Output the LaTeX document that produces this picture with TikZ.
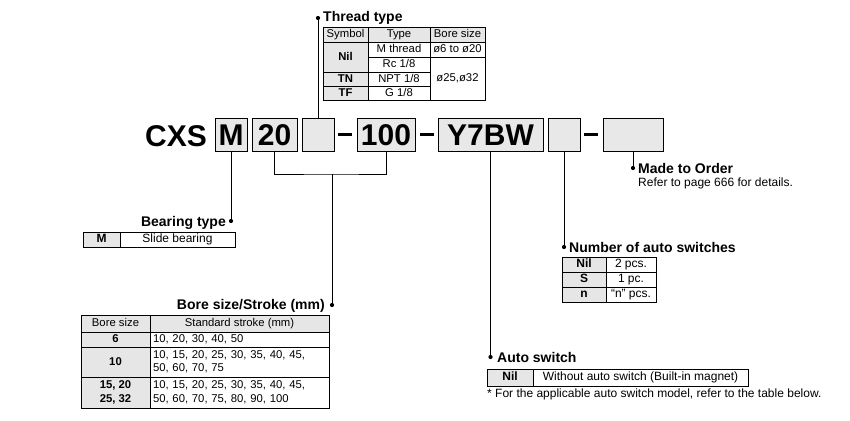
\documentclass[tikz,border=0pt]{standalone}
\usepackage{fontspec}
\setmainfont{Liberation Sans}
\newcommand\tabfont{\fontsize{11.3}{13.5}\selectfont}
\newcommand\tabfontb{\fontsize{12}{14}\selectfont}
\newcommand\ttlfont{\bfseries\fontsize{14}{16}\selectfont}
\newcommand\codefont{\bfseries\fontsize{30}{32}\selectfont}
\definecolor{cellgray}{HTML}{E6E6E6}
\definecolor{boxgray}{HTML}{E8E8E8}
\tikzset{
  cell/.style={draw, line width=0.7pt, inner sep=0pt, outer sep=0pt, anchor=north west, font=\tabfont, align=center},
  big/.style={font=\tabfontb},
  one/.style={text height=8.2pt, text depth=2.2pt},
  lcell/.style={draw, line width=0.7pt, inner xsep=3pt, inner ysep=0pt, outer sep=0pt, anchor=north west, font=\tabfont, align=left},
  codebox/.style={draw, line width=0.7pt, fill=boxgray, inner sep=0pt, outer sep=0pt, anchor=north west, minimum height=33pt, font=\codefont, text height=21.5pt, text depth=0pt},
  dashbar/.style={rectangle, fill=black, inner sep=0pt, minimum width=14pt, minimum height=3pt},
  dotnode/.style={circle, fill=black, inner sep=0pt, minimum size=4.2pt},
  ttl/.style={font=\ttlfont, inner sep=0pt},
  conn/.style={line width=0.8pt},
}
\newcommand\tc[8][]{\node[cell, one, #1, fill=#7, minimum width=#5pt, minimum height=#6pt] (#2) at (#3,#4) {#8};}
\newcommand\tcm[7]{\node[cell, fill=#6, minimum width=#4pt, minimum height=#5pt] (#1) at (#2,#3) {#7};}
\begin{document}
\begin{tikzpicture}[x=1pt,y=-1pt]
\useasboundingbox (0,0) rectangle (850,420);

% ---------- code row ----------
\node[font=\codefont, anchor=base west, inner sep=0pt] (cxs) at (145,146) {CXS};
\node[codebox, minimum width=32pt] (bM) at (215,118) {M};
\node[codebox, minimum width=45pt] (b20) at (252,118) {20};
\node[codebox, minimum width=32pt] (bT) at (302,118) {};
\node[dashbar] (da1) at (345,134.5) {};
\node[codebox, minimum width=58pt] (b100) at (357,118) {100};
\node[dashbar] (da2) at (426.5,134.5) {};
\node[codebox, minimum width=105pt] (bY) at (438,118) {Y7BW};
\node[codebox, minimum width=32pt] (bN) at (548,118) {};
\node[dashbar] (da3) at (591,134.5) {};
\node[codebox, minimum width=60pt] (bO) at (603,118) {};

% ---------- dots ----------
\node[dotnode] (dThread) at (318,18) {};
\node[dotnode] (dBear) at (231,221) {};
\node[dotnode] (dBore) at (332,305) {};
\node[dotnode] (dAuto) at (490.5,357) {};
\node[dotnode] (dNum) at (564,247) {};
\node[dotnode] (dMTO) at (633,168) {};
\coordinate (j) at (332,174);

% ---------- connectors ----------
\draw[conn] (bT.north) -- (dThread);
\draw[conn] (bM.south) -- (dBear);
\draw[conn] (b20.south) |- (j) -| (b100.south);
\draw[conn] (j) -- (dBore);
\draw[conn] (bY.south) -- (dAuto);
\draw[conn] (bN.south) -- (dNum);
\draw[conn] (bO.south) -- (dMTO);

% ---------- Thread type ----------
\node[ttl, anchor=base west] (tThread) at (323,22) {Thread type};
\tc{th1}{323}{27}{45}{15}{cellgray}{Symbol}
\tc{th2}{368}{27}{62}{15}{cellgray}{Type}
\tc{th3}{430}{27}{55}{15}{cellgray}{Bore size}
\tc{tNil}{323}{42}{45}{30}{cellgray}{\bfseries Nil}
\tc{tM}{368}{42}{62}{15}{white}{M thread}
\tc{tb1}{430}{42}{55}{15}{white}{ø6 to ø20}
\tc{tRc}{368}{57}{62}{15}{white}{Rc 1/8}
\tc{tTN}{323}{72}{45}{14}{cellgray}{\bfseries TN}
\tc{tNPT}{368}{72}{62}{14}{white}{NPT 1/8}
\tc{tTF}{323}{86}{45}{14}{cellgray}{\bfseries TF}
\tc{tG}{368}{86}{62}{14}{white}{G 1/8}
\tc{tb2}{430}{57}{55}{43}{white}{ø25,ø32}

% ---------- Bearing type ----------
\node[ttl, anchor=base east] (tBear) at (226,226) {Bearing type};
\tc[big]{bg1}{83}{232}{37}{15}{cellgray}{\bfseries M}
\tc[big]{bg2}{120}{232}{115}{15}{white}{Slide bearing}

% ---------- Bore size/Stroke ----------
\node[ttl, anchor=base east] (tBore) at (325,309) {Bore size/Stroke (mm)};
\tc{bh1}{81}{315}{69}{17}{cellgray}{Bore size}
\tc{bh2}{150}{315}{179}{17}{cellgray}{Standard stroke (mm)}
\tc{br1}{81}{332}{69}{15}{cellgray}{\bfseries 6}
\node[lcell, one, fill=white, text width=173pt, minimum height=15pt] (bs1) at (150,332) {10, 20, 30, 40, 50};
\tcm{br2}{81}{347}{69}{30}{cellgray}{\bfseries 10}
\node[lcell, fill=white, text width=173pt, minimum height=30pt] (bs2) at (150,347) {10, 15, 20, 25, 30, 35, 40, 45,\\50, 60, 70, 75};
\tcm{br3}{81}{377}{69}{31}{cellgray}{\bfseries 15, 20\\\bfseries 25, 32}
\node[lcell, fill=white, text width=173pt, minimum height=31pt] (bs3) at (150,377) {10, 15, 20, 25, 30, 35, 40, 45,\\50, 60, 70, 75, 80, 90, 100};

% ---------- Auto switch ----------
\node[ttl, anchor=base west] (tAuto) at (497,362) {Auto switch};
\tc[big]{as1}{487}{369}{46}{17}{cellgray}{\bfseries Nil}
\tc[big]{as2}{533}{369}{215}{17}{white}{Without auto switch (Built-in magnet)}
\node[font=\tabfontb, anchor=base west, inner sep=0pt] (fn) at (487,397) {* For the applicable auto switch model, refer to the table below.};

% ---------- Number of auto switches ----------
\node[ttl, anchor=base west] (tNum) at (569,252) {Number of auto switches};
\tc[big]{n1}{562}{257}{44}{15}{cellgray}{\bfseries Nil}
\tc[big]{n2}{606}{257}{50}{15}{white}{2 pcs.}
\tc[big]{n3}{562}{272}{44}{15}{cellgray}{\bfseries S}
\tc[big]{n4}{606}{272}{50}{15}{white}{1 pc.}
\tc[big]{n5}{562}{287}{44}{15}{cellgray}{\bfseries n}
\tc[big]{n6}{606}{287}{50}{15}{white}{“n” pcs.}

% ---------- Made to Order ----------
\node[ttl, anchor=base west] (tMTO) at (638,173) {Made to Order};
\node[font=\tabfontb, anchor=base west, inner sep=0pt] (mto) at (638,186) {Refer to page 666 for details.};
\end{tikzpicture}
\end{document}
